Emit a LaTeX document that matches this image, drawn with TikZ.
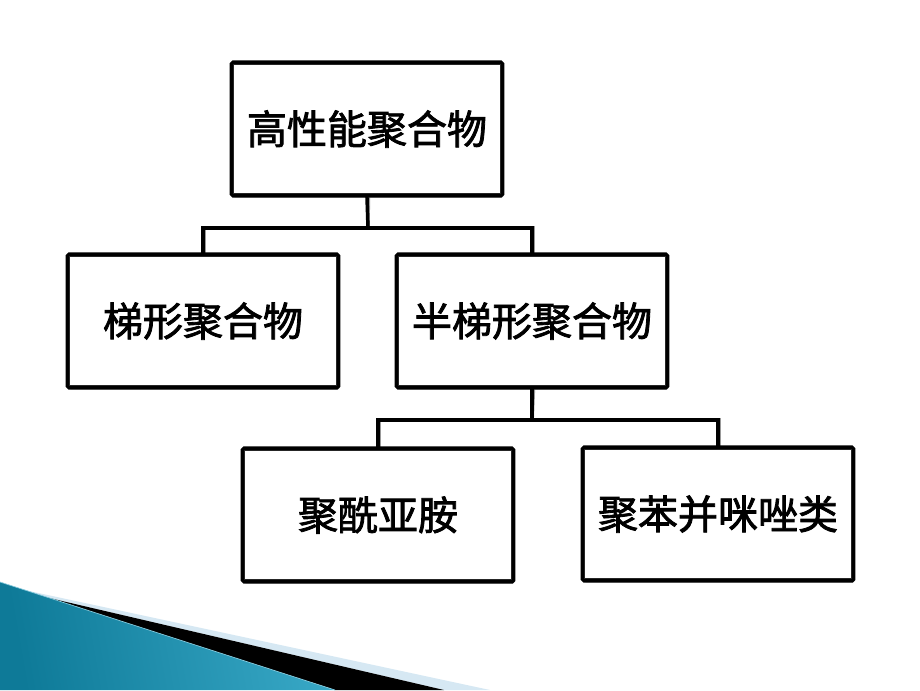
\documentclass[tikz,border=0pt]{standalone}
\usepackage{fontspec}
\newfontfamily\cjk[FakeBold=2]{Noto Sans CJK SC}
\usetikzlibrary{shadows}
\definecolor{tealdark}{RGB}{14,122,152}
\definecolor{teallight}{RGB}{56,168,198}
\definecolor{haze}{RGB}{214,232,243}
\tikzset{
  box/.style={draw=black, fill=white, line width=3pt, rounded corners=1.2pt,
    minimum width=203pt, minimum height=100pt, inner sep=0pt,
    font=\cjk\fontsize{30}{36}\selectfont,
    drop shadow={shadow xshift=1.2pt, shadow yshift=-1.2pt, fill=black!45, opacity=0.55}},
  innerline/.style={draw=black!85, line width=0.75pt},
  linkshadow/.style={draw=black!40, line width=2.8pt, line cap=rect},
  link/.style={draw=black, line width=2.6pt, line cap=rect}
}
\begin{document}
\begin{tikzpicture}[x=0.75pt, y=-0.75pt]
\useasboundingbox[fill=white] (0,0) rectangle (920,690);
% decoration
\fill[haze] (15,588) -- (490,690) -- (444,690) -- (45,597) -- cycle;
\fill[black] (45,597) -- (444,690) -- (335,690) -- cycle;
\shade[left color=tealdark, right color=teallight, shading angle=100] (0,582) -- (335,690) -- (0,690) -- cycle;
\draw[teallight!60!white, line width=0.5pt] (0,582) -- (335,690);
% connectors
\coordinate (j1) at (368,228);
\coordinate (j2) at (532,420);
\begin{scope}[shift={(1.2,1.2)}]
\draw[linkshadow] (367,198) -- (j1);
\draw[linkshadow] (203,253) |- (j1) -| (532,253);
\draw[linkshadow] (532,390) -- (j2);
\draw[linkshadow] (378,447) |- (j2) -| (718,445);
\end{scope}
% nodes
\node[box] (top) at (367,129) {高性能聚合物};
\node[box] (l) at (203,321) {梯形聚合物};
\node[box] (r) at (532,321) {半梯形聚合物};
\node[box] (bl) at (378,515) {聚酰亚胺};
\node[box] (br) at (718,514) {聚苯并咪唑类};
\foreach \n in {top,l,r,bl,br}
  \draw[innerline] ([xshift=3pt,yshift=-3pt]\n.north west) rectangle ([xshift=-3pt,yshift=3pt]\n.south east);
\draw[link] (top.south) -- (j1);
\draw[link] (l.north) |- (j1) -| (r.north);
\draw[link] (r.south) -- (j2);
\draw[link] (bl.north) |- (j2) -| (br.north);
\end{tikzpicture}
\end{document}
